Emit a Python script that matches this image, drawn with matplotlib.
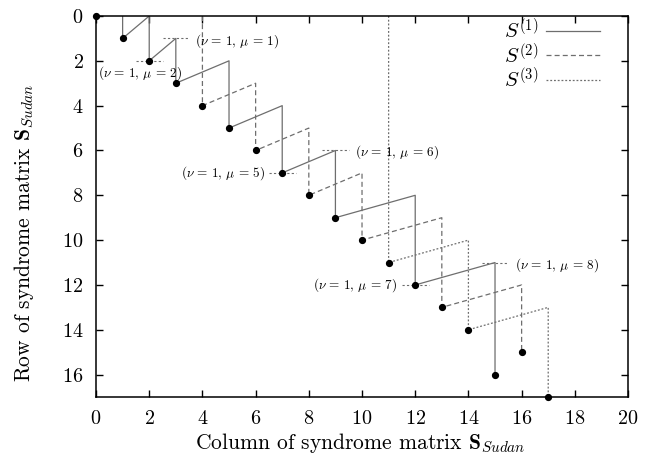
import matplotlib
matplotlib.use('Agg')
import matplotlib.pyplot as plt

plt.rcParams['font.family'] = 'serif'
plt.rcParams['font.serif'] = ['cmr10']
plt.rcParams['mathtext.fontset'] = 'cm'
plt.rcParams['axes.formatter.use_mathtext'] = True

# paths of the three syndrome parts (column, row)
s1_col = [1, 1, 2, 2, 3, 3, 5, 5, 7, 7, 9, 9, 12, 12, 15, 15]
s1_row = [0, 1, 0, 2, 1, 3, 2, 5, 4, 7, 6, 9, 8, 12, 11, 16]
s2_col = [4, 4, 6, 6, 8, 8, 10, 10, 13, 13, 16, 16]
s2_row = [0, 4, 3, 6, 5, 8, 7, 10, 9, 13, 12, 15]
s3_col = [11, 11, 14, 14, 17, 17]
s3_row = [0, 11, 10, 14, 13, 17]

# dots
pt_col = [0, 1, 2, 3, 4, 5, 6, 7, 8, 9, 10, 11, 12, 13, 14, 15, 16, 17]
pt_row = [0, 1, 2, 3, 4, 5, 6, 7, 8, 9, 10, 11, 12, 13, 14, 16, 15, 17]

# annotations: mu, marked column, marked row, text x, text y, alignment
ann_mu = [1, 2, 5, 6, 7, 8]
ann_col = [3, 2, 7, 9, 12, 15]
ann_row = [1, 2, 7, 6, 12, 11]
ann_tx = [3.72, 1.65, 6.35, 9.74, 11.32, 15.75]
ann_ty = [1.12, 2.55, 7.0, 6.07, 12.0, 11.1]
ann_ha = ['left', 'center', 'right', 'left', 'right', 'left']

fig = plt.figure(figsize=(6.55, 4.61), dpi=100)
ax = fig.add_axes([0.1466, 0.1388, 0.8122, 0.8265])

gray = '#6e6e6e'
ax.plot(s1_col, s1_row, color=gray, lw=0.9, ls='-', label=r'$S^{(1)}$')
ax.plot(s2_col, s2_row, color=gray, lw=0.9, ls=(0, (4, 2.5)), label=r'$S^{(2)}$')
ax.plot(s3_col, s3_row, color=gray, lw=0.9, ls=(0, (1.5, 1.5)), label=r'$S^{(3)}$')
ax.plot(pt_col, pt_row, 'o', color='black', ms=4.2, ls='none', clip_on=False, zorder=5)

for mu, c, r, tx, ty, ha in zip(ann_mu, ann_col, ann_row, ann_tx, ann_ty, ann_ha):
    ax.plot([c - 0.5, c + 0.5], [r, r], color=gray, lw=0.8, ls=(0, (2, 2)))
    ax.text(tx, ty, r'$(\nu\,=\,1,\,\mu\,=\,%d)$' % mu, fontsize=9.5, ha=ha, va='center')

ax.set_xlim(0, 20)
ax.set_ylim(17, 0)
ax.set_xticks(range(0, 21, 2))
ax.set_yticks(range(0, 17, 2))
ax.tick_params(direction='in', top=True, right=True, length=5, width=1, labelsize=14.5, pad=9)
for sp in ax.spines.values():
    sp.set_linewidth(1.1)

ax.set_xlabel(r'Column of syndrome matrix $\mathbf{S}_{Sudan}$', fontsize=15.5)
ax.set_ylabel(r'Row of syndrome matrix $\mathbf{S}_{Sudan}$', fontsize=15.5)
ax.xaxis.set_label_coords(0.497, -0.09)
ax.yaxis.set_label_coords(-0.112, 0.43)

ax.legend(loc='upper right', bbox_to_anchor=(0.975, 1.035), frameon=False, markerfirst=False,
          fontsize=15, handlelength=2.6, handletextpad=0.35, labelspacing=0.0,
          borderaxespad=0.3)

fig.savefig('out.png', dpi=100)
